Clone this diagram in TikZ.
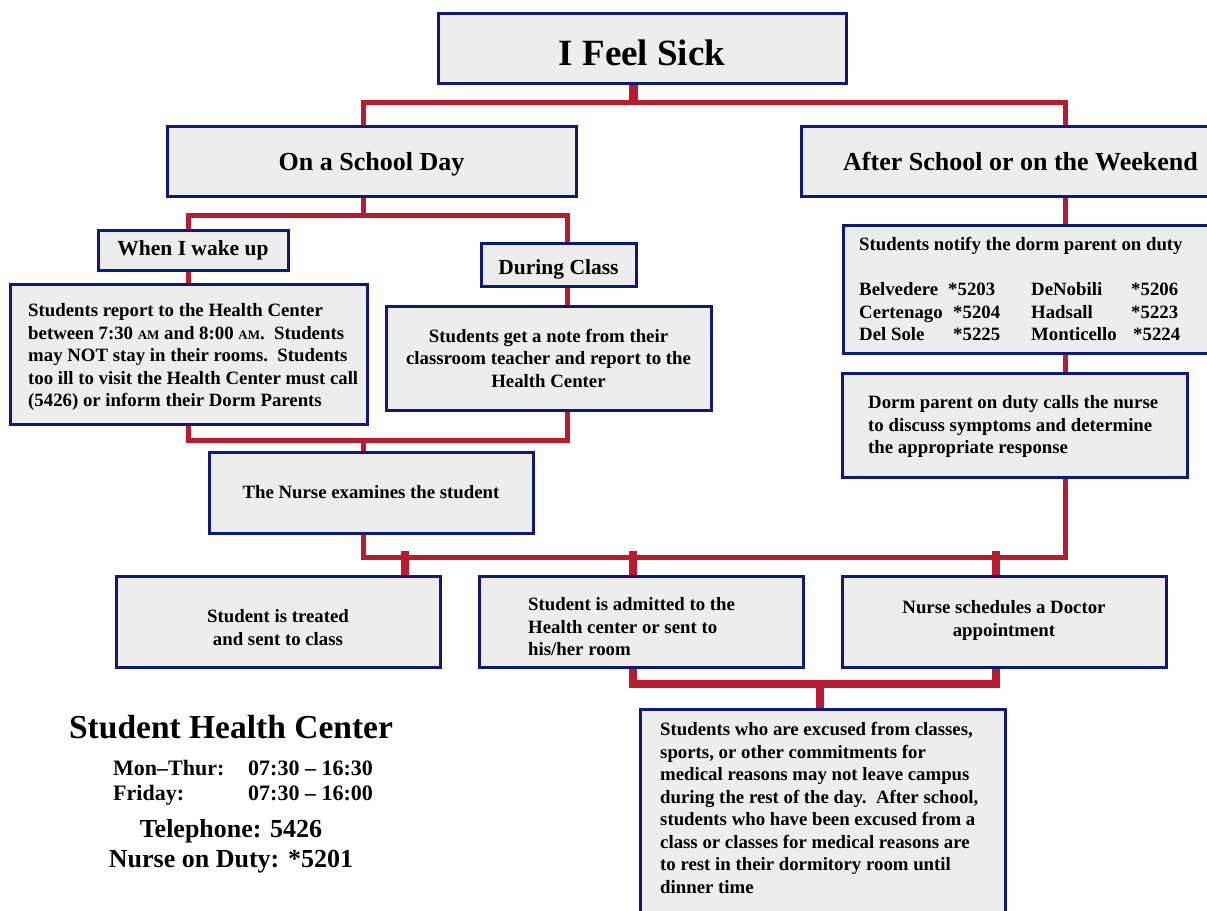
\documentclass[tikz,border=0pt]{standalone}
\usepackage{fontspec}
\setmainfont{Liberation Serif}
\definecolor{boxfill}{RGB}{237,237,237}
\definecolor{boxline}{RGB}{14,25,125}
\definecolor{conred}{RGB}{185,28,46}
\tikzset{
  box/.style={draw=boxline, line width=3pt, fill=boxfill, inner sep=0pt, align=center,
    font=\bfseries\fontsize{18.8}{22.5}\selectfont},
  txt/.style={inner sep=0pt, align=left, font=\bfseries\fontsize{18.8}{22.5}\selectfont},
  info/.style={inner sep=0pt},
  conn/.style={draw=conred, line width=5pt},
  connthick/.style={draw=conred, line width=8.5pt},
}
\newcommand{\smc}[1]{{\fontsize{13}{13}\selectfont #1}}
\begin{document}
\begin{tikzpicture}[x=1pt,y=-1pt]
\clip (0,0) rectangle (1207,910);
\fill[white] (0,0) rectangle (1207,910);

% boxes
\node[box, minimum width=408, minimum height=70, text height=34pt, text depth=0pt, font=\bfseries\fontsize{37}{40}\selectfont] (sick) at (642,48) {I Feel Sick};
\node[box, minimum width=409, minimum height=70, text height=18pt, text depth=0pt, font=\bfseries\fontsize{26}{30}\selectfont] (school) at (371.5,161) {On a School Day};
\node[box, minimum width=439, minimum height=70, text height=18pt, text depth=0pt, font=\bfseries\fontsize{26}{30}\selectfont] (after) at (1020.5,161) {After School or on the Weekend};
\node[box, minimum width=190, minimum height=40, font=\bfseries\fontsize{21.5}{24}\selectfont] (wake) at (193,250) {When I wake up};
\node[box, minimum width=155, minimum height=43, text height=19pt, text depth=0pt, font=\bfseries\fontsize{21.5}{24}\selectfont] (class) at (558.5,264.5) {During Class};
\node[box, minimum width=357, minimum height=140] (report) at (188.5,354) {};
\node[box, minimum width=325, minimum height=104] (note) at (548.5,358) {Students get a note from their\\classroom teacher and report to the\\Health Center};
\node[box, minimum width=324, minimum height=81] (nurse) at (371,492.5) {The Nurse examines the student};
\node[box, minimum width=369, minimum height=128] (dorm) at (1027.5,289) {};
\node[box, minimum width=345, minimum height=104] (calls) at (1014.5,425) {};
\node[box, minimum width=324, minimum height=91] (treated) at (278,621.5) {};
\node[box, minimum width=324, minimum height=91] (admitted) at (641,621.5) {};
\node[box, minimum width=324, minimum height=91] (doctor) at (1004,621.5) {};
\node[box, minimum width=365, minimum height=230] (excused) at (822.5,824) {};

% texts of boxes
\node[txt, anchor=north west] (reportT) at (28,303.5) {Students report to the Health Center\\between 7:30 \smc{AM} and 8:00 \smc{AM}.\ \ Students\\may NOT stay in their rooms.\ \ Students\\too ill to visit the Health Center must call\\(5426) or inform their Dorm Parents};
\node[txt, anchor=north west] (dormT) at (859,237.5) {Students notify the dorm parent on duty\\[22.5pt]
\makebox[89pt][l]{Belvedere}\makebox[83pt][l]{*5203}\makebox[100pt][l]{DeNobili}*5206\\
\makebox[94pt][l]{Certenago}\makebox[78pt][l]{*5204}\makebox[100pt][l]{Hadsall}*5223\\
\makebox[94pt][l]{Del Sole}\makebox[78pt][l]{*5225}\makebox[102pt][l]{Monticello}*5224};
\node[txt, anchor=north west] (callsT) at (868,395.5) {Dorm parent on duty calls the nurse\\to discuss symptoms and determine\\the appropriate response};
\node[txt, anchor=north, align=center] (treatedT) at (278,609.5) {Student is treated\\and sent to class};
\node[txt, anchor=north west] (admittedT) at (528,597.5) {Student is admitted to the\\Health center or sent to\\his/her room};
\node[txt, anchor=north, align=center] (doctorT) at (1004,600.5) {Nurse schedules a Doctor\\appointment};
\node[txt, anchor=north west] (excusedT) at (660,722.5) {Students who are excused from classes,\\sports, or other commitments for\\medical reasons may not leave campus\\during the rest of the day.\ \ After school,\\students who have been excused from a\\class or classes for medical reasons are\\to rest in their dormitory room until\\dinner time};

% health center info
\node[info, anchor=base, font=\bfseries\fontsize{33.5}{36}\selectfont] (hc) at (231,738) {Student Health Center};
\node[info, anchor=base west, font=\bfseries\fontsize{22}{24}\selectfont] (mon) at (113,775) {Mon--Thur:};
\node[info, anchor=base west, font=\bfseries\fontsize{22}{24}\selectfont] (monT) at (248,775) {07:30 -- 16:30};
\node[info, anchor=base west, font=\bfseries\fontsize{22}{24}\selectfont] (fri) at (113,800) {Friday:};
\node[info, anchor=base west, font=\bfseries\fontsize{22}{24}\selectfont] (friT) at (248,800) {07:30 -- 16:00};
\node[info, anchor=base, font=\bfseries\fontsize{26}{30}\selectfont] (tel) at (231,837) {Telephone: 5426};
\node[info, anchor=base, font=\bfseries\fontsize{26}{30}\selectfont] (nod) at (231,867) {Nurse on Duty: *5201};

% connectors
\coordinate (jTop) at (633.5,102);
\coordinate (jTopL) at (363,102);
\coordinate (jTopR) at (1065,102);
\draw[connthick] (sick.south -| jTop) -- (jTop);
\draw[conn] (school.north -| jTopL) -- (jTopL) -- (jTopR) -- (after.north -| jTopR);

\coordinate (jS) at (363,215);
\coordinate (jSL) at (188,215);
\coordinate (jSR) at (567,215);
\draw[conn] (school.south -| jS) -- (jS);
\draw[conn] (wake.north -| jSL) -- (jSL) -- (jSR) -- (class.north -| jSR);
\draw[conn] (wake.south -| jSL) -- (report.north -| jSL);
\draw[conn] (class.south -| jSR) -- (note.north -| jSR);

\coordinate (jM) at (363,440);
\coordinate (jML) at (188,440);
\coordinate (jMR) at (567,440);
\draw[conn] (report.south -| jML) -- (jML) -- (jMR) -- (note.south -| jMR);
\draw[conn] (jM) -- (nurse.north -| jM);

\draw[conn] (after.south -| jTopR) -- (dorm.north -| jTopR);
\draw[conn] (dorm.south -| jTopR) -- (calls.north -| jTopR);

\coordinate (jB) at (363,557);
\coordinate (jBR) at (1065,557);
\draw[conn] (nurse.south -| jB) -- (jB) -- (jBR) -- (calls.south -| jBR);
\coordinate (d1) at (405,551);
\coordinate (d2) at (633,551);
\coordinate (d3) at (996,551);
\draw[connthick] (d1) -- (treated.north -| d1);
\draw[connthick] (d2) -- (admitted.north -| d2);
\draw[connthick] (d3) -- (doctor.north -| d3);

\coordinate (jF) at (820,684);
\coordinate (jFL) at (633,684);
\coordinate (jFR) at (996,684);
\draw[connthick] (admitted.south -| jFL) -- (jFL) -- (jFR) -- (doctor.south -| jFR);
\draw[connthick] (jF) -- (excused.north -| jF);
\end{tikzpicture}
\end{document}
